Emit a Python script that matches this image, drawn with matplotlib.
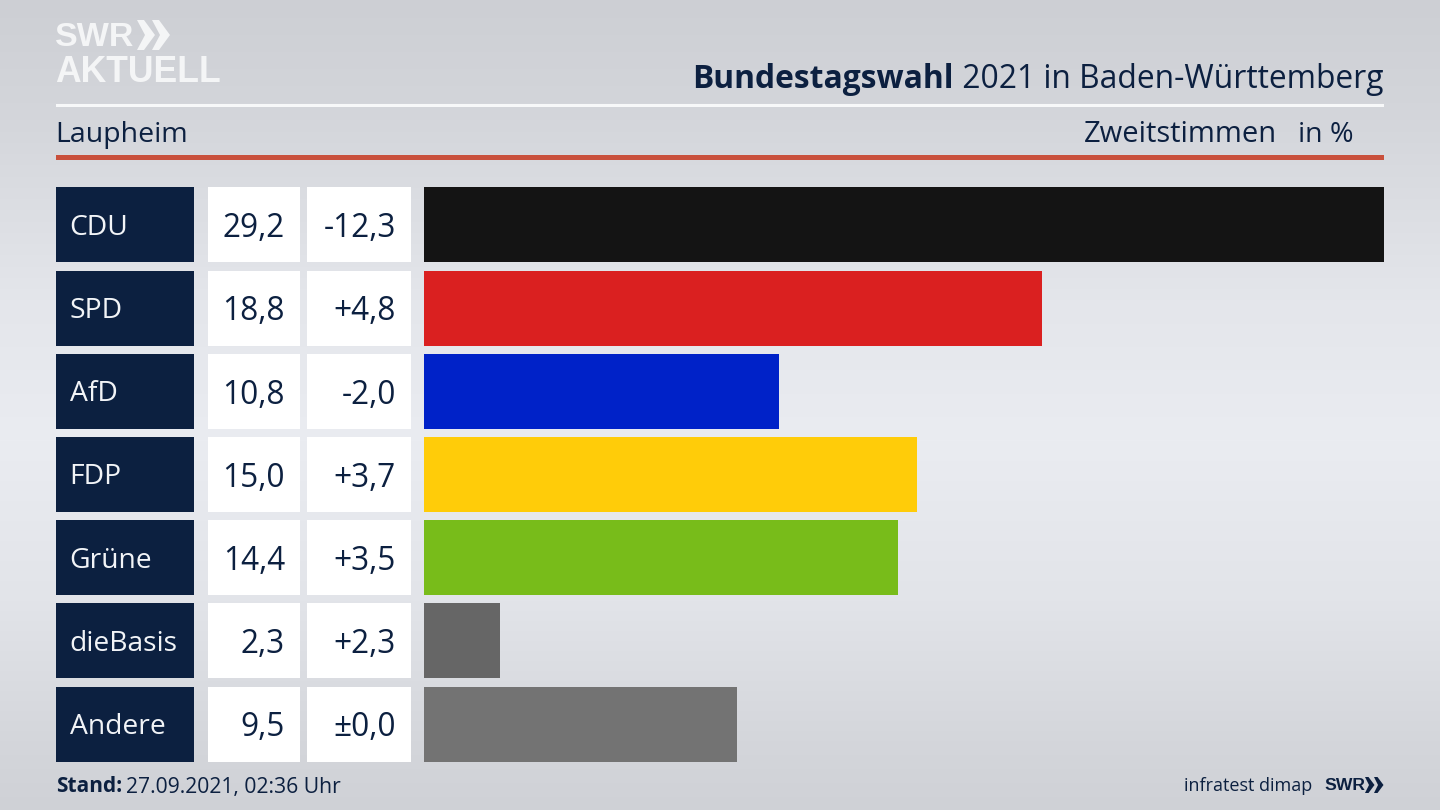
import numpy as np
import matplotlib
matplotlib.use("Agg")
import matplotlib.pyplot as plt
from matplotlib.patches import Rectangle, Polygon

parties = ["CDU", "SPD", "AfD", "FDP", "Grüne", "dieBasis", "Andere"]
shares = [29.2, 18.8, 10.8, 15.0, 14.4, 2.3, 9.5]
changes = ["-12,3", "+4,8", "-2,0", "+3,7", "+3,5", "+2,3", "±0,0"]
colors = ["#141414", "#da2020", "#0022c8", "#ffcc09", "#78bc1a", "#666666", "#737373"]

NAVY = "#0c2040"
FONT = "Open Sans"
LOGO = "Liberation Sans"
plt.rcParams["font.family"] = [FONT, "DejaVu Sans"]

W, H = 1440, 810
fig = plt.figure(figsize=(W / 100, H / 100), dpi=100)

page = fig.add_axes([0, 0, 1, 1])
page.set_xlim(0, W)
page.set_ylim(H, 0)
page.axis("off")

stops_y = [0, 120, 300, 440, 600, 740, 810]
stops_v = [205, 212, 228, 234, 226, 212, 207]
yy = np.arange(H)
v = np.interp(yy, stops_y, stops_v)
grad = np.stack([v, v + 2, v + 7], axis=1)[:, None, :] / 255
page.imshow(np.clip(grad, 0, 1), extent=[0, W, H, 0], aspect="auto", zorder=0)
page.set_xlim(0, W)
page.set_ylim(H, 0)

page.add_patch(Rectangle((56, 104), 1328, 3, fc="#f7f8f9", ec="none", zorder=1))
page.add_patch(Rectangle((56, 155), 1328, 5, fc="#c9503c", ec="none", zorder=1))

# logo
page.text(55, 37, "SWR", color="#f4f5f6", family=LOGO, fontsize=24.5, fontweight="bold", va="center", ha="left", zorder=2)
page.text(55, 73, "AKTUELL", color="#f4f5f6", family=LOGO, fontsize=25.6, fontweight="bold", va="center", ha="left", zorder=2)
for x0 in (137, 152):
    page.add_patch(Polygon([(x0, 20), (x0 + 7, 20), (x0 + 18, 35), (x0 + 7, 50), (x0, 50), (x0 + 8, 35)],
                           closed=True, fc="#f4f5f6", ec="none", zorder=2))

t2 = page.text(1383, 80, " 2021 in Baden-Württemberg", color=NAVY, fontsize=22.9, ha="right", va="center", zorder=2)
fig.canvas.draw()
bb = t2.get_window_extent()
page.text(bb.x0, 80, "Bundestagswahl", color=NAVY, fontsize=22.9, fontweight="bold", ha="right", va="center", zorder=2)

page.text(55, 135, "Laupheim", color=NAVY, fontsize=20.5, ha="left", va="center", zorder=2)
page.text(1277, 135, "Zweitstimmen", color=NAVY, fontsize=21, ha="right", va="center", zorder=2)
page.text(1354, 135, "in %", color=NAVY, fontsize=20.5, ha="right", va="center", zorder=2)

row_top, row_h, row_pitch = 187.3, 75, 83.2
for i, (p, s, c) in enumerate(zip(parties, shares, changes)):
    y = row_top + i * row_pitch
    cy = y + row_h / 2
    page.add_patch(Rectangle((56, y), 137.5, row_h, fc=NAVY, ec="none", zorder=1))
    page.add_patch(Rectangle((208, y), 91.5, row_h, fc="white", ec="none", zorder=1))
    page.add_patch(Rectangle((307, y), 103.5, row_h, fc="white", ec="none", zorder=1))
    page.text(69.5, cy + 3, p, color="#f2f4f7", fontsize=20.3, ha="left", va="center", zorder=2)
    page.text(285, cy + 4, f"{s:.1f}".replace(".", ","), color=NAVY, fontsize=22.8, ha="right", va="center", zorder=2)
    page.text(396, cy + 4, c, color=NAVY, fontsize=22.8, ha="right", va="center", zorder=2)

t = page.text(56, 787, "Stand:", color=NAVY, fontsize=15, fontweight="bold", ha="left", va="center", zorder=2)
fig.canvas.draw()
xe = t.get_window_extent().x1
page.text(xe + 4, 787, "27.09.2021, 02:36 Uhr", color=NAVY, fontsize=15.2, ha="left", va="center", zorder=2)
page.text(1312, 786, "infratest dimap", color=NAVY, fontsize=13, ha="right", va="center", zorder=2)
page.text(1324, 785, "SWR", color=NAVY, family=LOGO, fontsize=12.6, fontweight="bold", ha="left", va="center", zorder=2)
for x0 in (1365, 1374):
    page.add_patch(Polygon([(x0, 777), (x0 + 3.5, 777), (x0 + 9.5, 785), (x0 + 3.5, 793), (x0, 793), (x0 + 4, 785)],
                           closed=True, fc=NAVY, ec="none", zorder=2))

left, right = 424.3, 1384
top, bottom = row_top, row_top + 6 * row_pitch + row_h
ax = fig.add_axes([left / W, 1 - bottom / H, (right - left) / W, (bottom - top) / H])
ax.patch.set_alpha(0)
ax.axis("off")
ypos = np.arange(len(parties))
ax.barh(ypos, shares, height=row_h / row_pitch, color=colors, linewidth=0)
ax.set_xlim(0, 29.2)
half = row_h / row_pitch / 2
ax.set_ylim(len(parties) - 1 + half, -half)

fig.savefig("out.png", dpi=100)
